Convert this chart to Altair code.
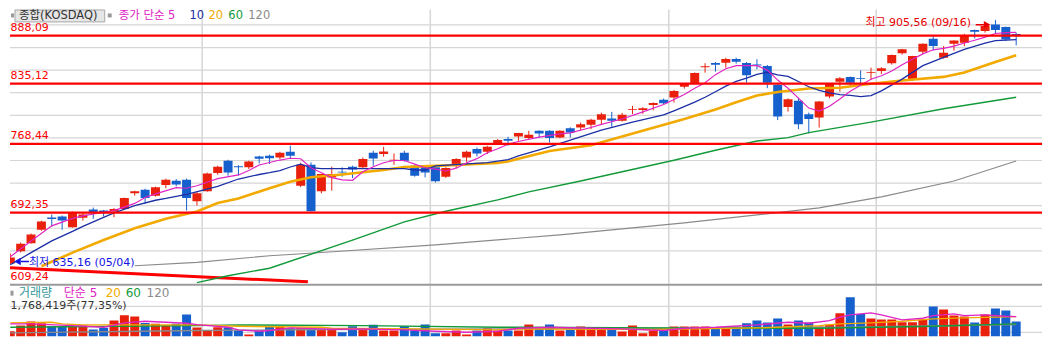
import altair as alt
import pandas as pd

# ---------------- data ----------------
opens = [636.0, 649.6, 658.5, 673.3, 686.8, 688.0, 676.1, 686.5, 695.7, 694.6,
         693.8, 696.4, 713.7, 717.7, 711.1, 722.9, 727.7, 728.8, 704.8, 715.9,
         736.2, 749.7, 743.7, 742.4, 754.5, 755.3, 753.4, 759.7, 722.1, 745.3,
         715.9, 731.3, 737.6, 743.1, 742.4, 758.6, 757.1, 750.1, 758.6, 744.2,
         744.2, 742.4, 732.1, 745.3, 753.4, 762.6, 759.7, 768.8, 773.7, 776.6,
         774.8, 782.8, 782.8, 775.5, 785.8, 786.5, 789.5, 795.0, 796.4, 793.9,
         806.0, 806.0, 811.5, 817.1, 819.6, 831.7, 835.5, 853.5, 857.9, 858.2,
         862.3, 857.9, 856.2, 854.6, 833.6, 809.3, 816.0, 801.3, 797.5, 820.7,
         837.2, 842.4, 841.0, 846.8, 849.1, 857.6, 868.6, 839.9, 870.4, 884.7,
         863.7, 879.2, 880.3, 894.3, 893.2, 900.6, 897.6, 889.9]
highs = [647.1, 659.2, 669.2, 683.5, 690.1, 689.1, 693.5, 692.7, 697.9, 695.3,
         697.3, 708.9, 716.6, 718.8, 721.0, 729.9, 729.5, 729.9, 715.5, 736.5,
         744.2, 750.8, 744.8, 749.7, 755.3, 756.4, 759.7, 766.3, 747.5, 747.9,
         735.4, 743.1, 742.4, 744.2, 753.4, 760.8, 765.2, 757.8, 760.8, 745.3,
         744.8, 743.5, 742.6, 752.5, 760.8, 764.4, 766.3, 773.7, 776.2, 780.6,
         782.8, 783.4, 783.4, 783.4, 786.7, 792.0, 796.1, 803.0, 803.8, 802.7,
         810.4, 809.0, 814.3, 818.5, 828.1, 835.7, 847.4, 857.6, 859.0, 863.7,
         863.7, 859.0, 862.0, 855.7, 834.7, 818.7, 819.6, 803.0, 815.9, 835.7,
         842.4, 842.9, 849.8, 852.7, 853.1, 867.2, 873.5, 865.8, 879.6, 887.7,
         876.6, 882.9, 890.2, 894.9, 900.6, 905.56, 898.2, 891.3]
lows = [635.16, 648.2, 658.0, 672.2, 676.9, 673.3, 675.8, 683.5, 685.4, 688.0,
        687.2, 695.7, 711.1, 702.0, 710.0, 719.2, 721.4, 694.6, 700.1, 715.5,
        734.3, 733.2, 733.2, 740.6, 746.8, 746.1, 751.6, 751.6, 720.5, 693.5,
        713.7, 716.6, 732.1, 730.6, 741.5, 744.2, 754.2, 745.3, 748.6, 732.1,
        731.3, 725.8, 730.6, 741.7, 748.6, 754.5, 757.1, 767.4, 766.3, 771.8,
        773.7, 774.8, 769.9, 774.7, 775.5, 783.6, 784.7, 790.2, 787.3, 793.1,
        801.3, 801.6, 805.7, 812.3, 814.1, 829.5, 834.8, 847.2, 848.3, 852.7,
        857.2, 836.1, 850.9, 830.0, 794.7, 804.1, 784.7, 779.9, 786.5, 818.9,
        826.2, 831.4, 832.5, 839.1, 845.7, 856.1, 867.1, 838.0, 867.8, 871.9,
        862.6, 871.5, 876.6, 885.1, 891.5, 890.7, 882.2, 877.4]
closes = [642.7, 657.8, 668.1, 682.4, 685.2, 683.6, 692.7, 690.1, 691.6, 691.6,
          696.4, 708.6, 715.9, 708.6, 720.3, 728.8, 723.3, 708.6, 713.7, 735.7,
          743.1, 736.8, 742.6, 749.0, 752.0, 752.5, 758.6, 755.3, 745.3, 693.8,
          735.0, 735.0, 736.8, 740.1, 751.6, 752.3, 760.0, 750.8, 749.7, 733.2,
          736.8, 726.9, 741.7, 751.6, 759.7, 757.8, 765.2, 772.6, 771.8, 780.3,
          778.4, 779.9, 774.8, 782.8, 781.0, 790.2, 795.0, 801.3, 793.9, 800.5,
          806.8, 807.9, 813.7, 813.4, 827.0, 835.0, 846.8, 854.2, 856.0, 862.3,
          859.3, 844.3, 855.1, 836.1, 798.6, 817.8, 790.2, 795.8, 815.2, 835.0,
          841.0, 836.1, 840.2, 847.6, 852.0, 866.7, 873.0, 865.6, 879.2, 876.6,
          869.3, 882.9, 887.7, 892.4, 898.7, 894.3, 884.0, 888.8]
volumes = [1305, 1577, 1769, 1687, 1544, 1544, 1544, 1577, 1386, 1467,
           1816, 2070, 2008, 1706, 1659, 1577, 1659, 2103, 1482, 1338,
           1496, 1496, 1338, 1147, 1338, 1544, 1544, 1448, 1448, 1467,
           1420, 1420, 1257, 1544, 1386, 1611, 1338, 1338, 1544, 1338,
           1625, 1209, 1209, 1338, 1147, 1338, 1448, 1338, 1338, 1338,
           1625, 1420, 1625, 1338, 1372, 1530, 1420, 1372, 1372, 1291,
           1577, 1209, 1338, 1420, 1530, 1530, 1530, 1530, 1420, 1448,
           1530, 1687, 1816, 1721, 1912, 1625, 1816, 1721, 1530, 1625,
           2165, 2930, 2137, 1912, 1864, 1864, 1735, 1735, 1864, 2486,
           2342, 2055, 2008, 1721, 2103, 2390, 2294, 1768]

ma5_i = [0, 2, 4, 6, 7, 9, 10, 12, 13, 14, 16, 17, 18, 20, 22, 23, 24, 26, 27, 28,
         29, 30, 31, 32, 33, 34, 35, 36, 37, 38, 39, 40, 41, 42, 43, 44, 45, 46, 47, 48,
         49, 51, 53, 54, 56, 57, 59, 61, 63, 64, 65, 66, 67, 68, 69, 70, 72, 73, 74, 75,
         76, 77, 78, 79, 80, 81, 82, 83, 84, 85, 86, 87, 88, 89, 90, 91, 92, 93, 94, 95,
         96, 97]
ma5_v = [643.4, 661.0, 677.7, 686.0, 688.7, 692.7, 694.5, 702.5, 709.0, 713.0,
         720.0, 719.3, 722.0, 730.0, 734.0, 739.0, 745.0, 750.5, 752.5, 751.9,
         742.0, 736.5, 731.0, 728.5, 728.1, 737.5, 743.0, 747.5, 750.0, 750.0,
         746.0, 742.0, 740.5, 738.4, 741.5, 747.5, 752.0, 758.5, 763.0, 768.0,
         771.0, 775.9, 779.5, 780.6, 786.5, 789.9, 795.9, 803.8, 812.0, 817.5,
         823.0, 830.0, 836.0, 845.0, 851.5, 855.0, 855.0, 850.0, 839.0, 830.0,
         819.0, 808.0, 804.6, 810.0, 818.0, 826.5, 833.2, 839.9, 843.8, 849.0,
         856.0, 862.0, 868.0, 872.5, 874.0, 876.5, 880.0, 883.0, 886.5, 890.5,
         891.5, 891.7]
ma10_i = [0, 2, 4, 6, 7, 9, 10, 12, 14, 15, 17, 20, 22, 24, 25, 26, 27, 28, 29, 30,
          38, 39, 40, 41, 46, 48, 49, 52, 54, 57, 60, 63, 64, 66, 67, 68, 69, 70, 71, 72,
          73, 74, 75, 76, 77, 78, 79, 80, 81, 82, 83, 84, 86, 88, 90, 92, 94, 95, 97]
ma10_v = [634.6, 648.0, 661.1, 671.5, 677.0, 687.0, 692.0, 700.0, 706.0, 708.0,
          712.6, 721.3, 729.5, 734.5, 736.5, 738.9, 742.8, 746.0, 742.2, 741.1,
          740.9, 739.5, 739.5, 744.0, 747.7, 751.0, 755.0, 765.0, 772.6, 783.6,
          792.4, 800.4, 805.0, 814.6, 820.0, 826.1, 832.3, 837.6, 841.2, 845.3,
          847.6, 844.8, 843.0, 837.4, 831.6, 827.5, 824.7, 822.9, 822.1, 820.6,
          821.8, 827.1, 840.0, 855.0, 864.0, 873.0, 880.0, 882.6, 883.7]
ma20_i = [3, 6, 9, 12, 15, 18, 20, 22, 25, 27, 29, 32, 36, 38, 41, 43, 47, 48, 49, 52,
          56, 59, 62, 65, 68, 70, 72, 74, 77, 80, 83, 86, 90, 92, 95, 97]
ma20_v = [633.0, 648.0, 662.0, 675.1, 685.5, 693.5, 703.0, 708.0, 719.3, 726.5,
          731.5, 734.5, 739.4, 742.8, 744.0, 745.0, 747.2, 749.0, 752.0, 760.5,
          766.8, 776.5, 786.1, 795.8, 806.5, 814.5, 821.9, 825.7, 829.6, 830.5,
          834.9, 838.6, 842.5, 847.3, 859.0, 866.4]
ma60_i = [18, 21, 25, 33, 38, 42, 47, 50, 55, 59, 64, 68, 72, 75, 77, 83, 90, 97]
ma60_v = [614.8, 622.5, 630.8, 661.8, 682.0, 693.8, 706.4, 715.3, 727.3, 737.5,
          750.3, 761.3, 771.5, 775.3, 780.8, 792.4, 807.3, 820.0]
ma120_i = [12, 18, 25, 30, 41, 53, 65, 72, 78, 84, 91, 97]
ma120_v = [633.5, 637.2, 644.6, 648.2, 656.7, 667.7, 681.0, 689.8, 697.5, 709.7, 727.3, 749.4]

vma5_i = [0, 2, 6, 9, 11, 13, 15, 17, 18, 21, 22, 24, 25, 27, 30, 31, 34, 38, 41, 44,
          47, 49, 52, 56, 59, 63, 65, 68, 72, 75, 77, 79, 80, 81, 83, 84, 86, 88, 89, 91,
          92, 94, 96, 97]
vma5_v = [1659, 1659, 1577, 1496, 1706, 1783, 1735, 1687, 1625, 1496,
          1372, 1305, 1338, 1467, 1420, 1401, 1420, 1372, 1305, 1257,
          1305, 1448, 1496, 1448, 1420, 1338, 1448, 1496, 1611, 1735,
          1687, 1816, 1974, 2089, 2184, 2089, 1850, 1926, 2055, 2137,
          2055, 2089, 2022, 2008]
vma20_i = [0, 4, 5, 7, 18, 22, 30, 31, 39, 47, 49, 62, 72, 78, 80, 83, 86, 89, 92, 97]
vma20_v = [1706, 1735, 1659, 1611, 1611, 1544, 1496, 1448, 1420, 1372,
           1420, 1386, 1467, 1577, 1659, 1706, 1783, 1898, 1945, 2008]
vma60_i = [0, 18, 22, 34, 47, 49, 68, 78, 88, 97]
vma60_v = [1496, 1577, 1611, 1577, 1496, 1496, 1448, 1448, 1530, 1659]
vma120_i = [0, 18, 31, 47, 49, 68, 81, 97]
vma120_v = [1228, 1338, 1386, 1420, 1420, 1467, 1496, 1625]

levels = [888.09, 835.12, 768.44, 692.35]
level_labels = ["888,09", "835,12", "768,44", "692,35"]
trend_i = [-0.029, 28.7]
trend_p = [631.2, 615.7]
trend_label = "609,24"
price_grid = [650, 675, 700, 725, 750, 775, 800, 825, 850, 875, 900]
month_marks = [18.5, 40.5, 63.5, 83.5]
vol_grid = [1250, 2500]

hi_i, hi_p, hi_text = 95, 905.56, "최고 905,56 (09/16)"
lo_i, lo_p, lo_text = 0, 635.16, "최저 635,16 (05/04)"
hi_arrow_i = [93.1, 93.9]
hi_arrow_p = [900.2, 900.2]
lo_arrow_i = [1.0, 1.8]
lo_arrow_p = [638.3, 638.3]

header_title = "종합(KOSDAQ)"
header_items = ["종가 단순 5", "10", "20", "60", "120"]
vol_items = ["거래량", "단순 5", "20", "60", "120"]
vol_info = "1,768,419주(77,35%)"

# ---------------- styling / layout ----------------
RED = "#e8200c"
BLUE = "#1560cc"
LINE_RED = "#ff0000"
C5, C10, C20, C60, C120 = "#e024c4", "#1c2fa6", "#f2a900", "#129a3a", "#8a8a8a"
GRID = "#d6d6d6"
FONT = "DejaVu Sans, Noto Sans CJK KR"
W, HP, HV = 1035, 275, 53
X_MIN, X_MAX = -0.029, 99.49
HALF = 0.433  # half candle width in index units

xs = alt.Scale(domain=[X_MIN, X_MAX], nice=False, zero=False)
ps = alt.Scale(domain=[613.68, 917.11], nice=False, zero=False)
vs = alt.Scale(domain=[1052, 3585], nice=False, zero=False)


def X(f):
    return alt.X(f, type="quantitative", scale=xs, axis=None)


def YP(f):
    return alt.Y(f, type="quantitative", scale=ps, axis=None)


def YV(f):
    return alt.Y(f, type="quantitative", scale=vs, axis=None)


cdf = pd.DataFrame({"i": list(range(len(opens))), "o": opens, "h": highs,
                    "l": lows, "c": closes, "v": volumes})
cdf["d"] = ["up" if c >= o else "down" for o, c in zip(opens, closes)]
color = alt.Color("d:N", scale=alt.Scale(domain=["up", "down"], range=[RED, BLUE]), legend=None)

base = alt.Chart(cdf).transform_calculate(
    x1=f"max(datum.i - {HALF}, {X_MIN})",
    x2=f"datum.i + {HALF}",
    top="max(datum.o, datum.c)",
    bot="max(datum.o, datum.c) - min(datum.o, datum.c) < 0.9 ? max(datum.o, datum.c) - 0.9 : min(datum.o, datum.c)",
)


def line(iv, vals, col, w, yf):
    return alt.Chart(pd.DataFrame({"i": iv, "p": vals})).mark_line(
        color=col, strokeWidth=w, clip=True).encode(x=X("i"), y=yf("p"))


def label(t, x, y, col, size=12, align="left", baseline="middle"):
    return alt.Chart(pd.DataFrame({"t": [t]})).mark_text(
        align=align, baseline=baseline, color=col, font=FONT, fontSize=size
    ).encode(x=alt.value(x), y=alt.value(y), text="t:N")


def box(x1, x2, y1, y2, fill, stroke=None):
    kw = dict(fill=fill)
    if stroke:
        kw.update(stroke=stroke, strokeWidth=1)
    return alt.Chart(pd.DataFrame({"a": [0]})).mark_rect(**kw).encode(
        x=alt.value(x1), x2=alt.value(x2), y=alt.value(y1), y2=alt.value(y2))


# ---- price panel ----
grid_h = alt.Chart(pd.DataFrame({"p": price_grid})).mark_rule(color=GRID, strokeWidth=1.2).encode(y=YP("p"))
grid_v = alt.Chart(pd.DataFrame({"i": month_marks})).mark_rule(color=GRID, strokeWidth=1.5).encode(x=X("i"))
trend = line(trend_i, trend_p, LINE_RED, 3, YP)
wick = alt.Chart(cdf).mark_rule(strokeWidth=1, clip=True).encode(x=X("i"), y=YP("l"), y2="h:Q", color=color)
body = base.mark_rect(clip=True).encode(x=X("x1"), x2="x2:Q", y=YP("top"), y2="bot:Q", color=color)

mas = [line(ma120_i, ma120_v, C120, 1.2, YP), line(ma60_i, ma60_v, C60, 1.4, YP),
       line(ma20_i, ma20_v, C20, 2.6, YP), line(ma10_i, ma10_v, C10, 1.3, YP),
       line(ma5_i, ma5_v, C5, 1.2, YP)]

lv = pd.DataFrame({"p": levels, "t": level_labels})
lvl = alt.Chart(lv).mark_rule(color=LINE_RED, strokeWidth=2.2).encode(y=YP("p"))
lvl_txt = alt.Chart(lv).mark_text(align="left", baseline="alphabetic", dy=-4.5, color=LINE_RED,
                                  font=FONT, fontSize=11).encode(x=alt.value(0.5), y=YP("p"), text="t:N")
trend_txt = label(trend_label, 0.5, 271.3, LINE_RED, 11, baseline="alphabetic")

hi_df = pd.DataFrame({"i": [hi_i], "p": [hi_p], "t": [hi_text]})
hi_txt = alt.Chart(hi_df).mark_text(align="right", baseline="middle", dx=-24.5, dy=3.5, color="#e80000",
                                    font=FONT, fontSize=11).encode(x=X("i"), y=YP("p"), text="t:N")
hi_stem = line(hi_arrow_i, hi_arrow_p, "#e80000", 1.5, YP)
hi_head = alt.Chart(pd.DataFrame({"i": [hi_arrow_i[1] + 0.3], "p": [hi_arrow_p[0]]})).mark_point(
    shape="triangle-right", filled=True, size=60, color="#e80000", opacity=1).encode(x=X("i"), y=YP("p"))
lo_df = pd.DataFrame({"i": [lo_i], "p": [lo_p], "t": [lo_text]})
lo_txt = alt.Chart(lo_df).mark_text(align="left", baseline="middle", dx=18.7, dy=-1.7, color="#1414e6",
                                    font=FONT, fontSize=11).encode(x=X("i"), y=YP("p"), text="t:N")
lo_stem = line(lo_arrow_i, lo_arrow_p, "#1414e6", 1.5, YP)
lo_head = alt.Chart(pd.DataFrame({"i": [lo_arrow_i[0] - 0.3], "p": [lo_arrow_p[0]]})).mark_point(
    shape="triangle-left", filled=True, size=55, color="#1414e6", opacity=1).encode(x=X("i"), y=YP("p"))

hdr_x = [109, 180, 199, 219, 239]
hdr_c = [C5, C10, C20, C60, C120]
header = [box(1, 4, 4, 8, "#9a9a9a"), box(5, 95, 0.5, 12.5, "#e6e6e6", "#a8a8a8"),
          label(header_title, 9, 6.5, "#333333", 11.5), box(98, 102, 4, 8, "#9a9a9a")]
header += [label(t, x, 6.5, c, 11.5) for t, x, c in zip(header_items, hdr_x, hdr_c)]

price = alt.layer(grid_h, grid_v, trend, wick, body, *mas, lvl, lvl_txt, trend_txt,
                  hi_txt, hi_stem, hi_head, lo_txt, lo_stem, lo_head, *header).properties(width=W, height=HP)

# ---- volume panel ----
vgrid_h = alt.Chart(pd.DataFrame({"v": vol_grid})).mark_rule(color=GRID, strokeWidth=1.2).encode(y=YV("v"))
vgrid_v = alt.Chart(pd.DataFrame({"i": month_marks})).mark_rule(color=GRID, strokeWidth=1.5).encode(x=X("i"))
divider = alt.Chart(pd.DataFrame({"a": [0]})).mark_rule(color="#9a9a9a", strokeWidth=2).encode(
    x=alt.value(0), x2=alt.value(W), y=alt.value(1))
vbars = base.mark_rect(clip=True).encode(x=X("x1"), x2="x2:Q", y=YV("v"), y2=alt.value(HV), color=color)
vmas = [line(vma120_i, vma120_v, C120, 1.4, YV), line(vma60_i, vma60_v, C60, 1.4, YV),
        line(vma20_i, vma20_v, C20, 1.4, YV), line(vma5_i, vma5_v, C5, 1.4, YV)]
vol_x = [9, 54, 96, 116, 137]
vol_c = ["#339999", C5, C20, C60, C120]
vtexts = [box(0.5, 3.5, 7, 12, "#9a9a9a")]
vtexts += [label(t, x, 9.5, c, 12) for t, x, c in zip(vol_items, vol_x, vol_c)]
vtexts += [label(vol_info, 0.5, 22.5, "#333333", 11)]

vol = alt.layer(vgrid_h, vgrid_v, vbars, *vmas, divider, *vtexts).properties(width=W, height=HV)

chart = alt.vconcat(price, vol, spacing=0, bounds="flush").properties(
    padding=0
).configure_view(stroke=None)

chart.save("out.html", embed_options={"renderer": "svg", "actions": False})
